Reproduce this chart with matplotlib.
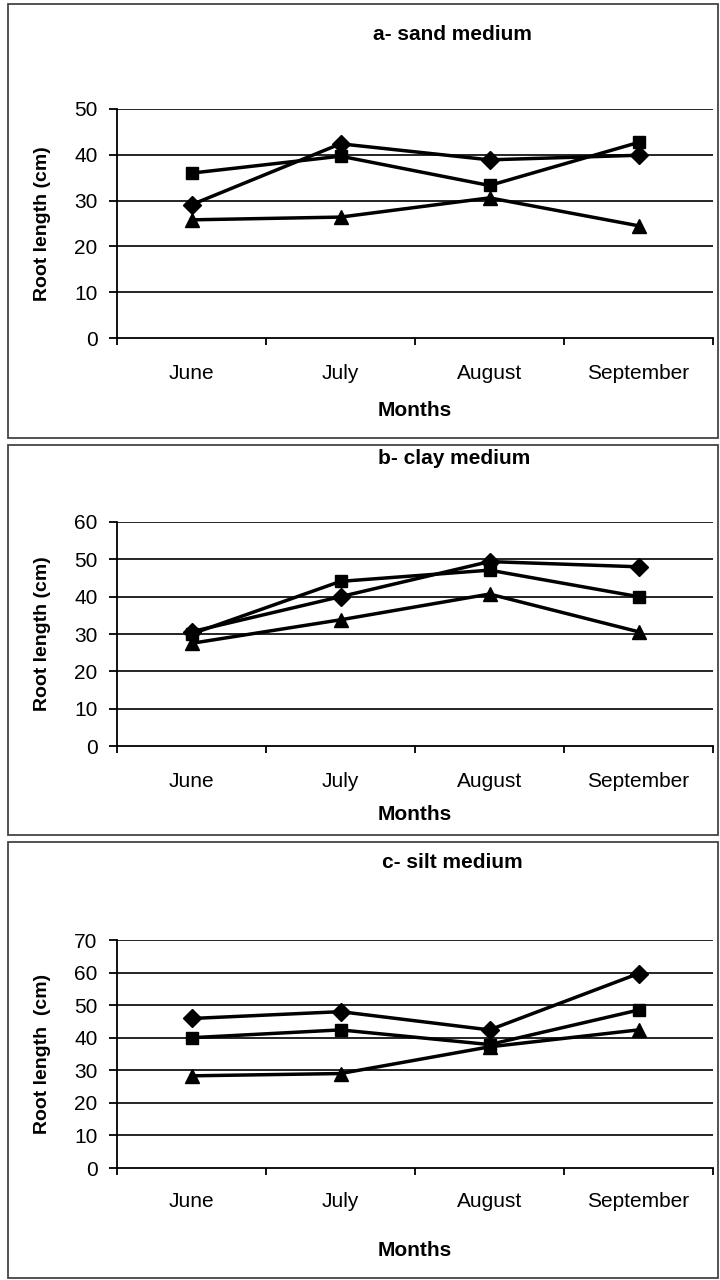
'''root length of three treatments over four months, in three growth media'''
import matplotlib
matplotlib.use('Agg')
import matplotlib.pyplot as plt
from matplotlib.patches import Rectangle

months = ['June', 'July', 'August', 'September']

# panel a - sand
sand_diamond = [29.1, 42.4, 38.9, 39.9]
sand_square = [36.0, 39.7, 33.3, 42.7]
sand_triangle = [25.8, 26.4, 30.6, 24.5]

# panel b - clay
clay_diamond = [30.6, 40.0, 49.4, 48.0]
clay_square = [30.0, 44.1, 47.1, 40.0]
clay_triangle = [27.5, 33.8, 40.7, 30.6]

# panel c - silt
silt_diamond = [45.9, 48.0, 42.4, 59.7]
silt_square = [40.0, 42.4, 37.9, 48.5]
silt_triangle = [28.3, 29.0, 37.2, 42.4]

titles = ['a- sand medium', 'b- clay medium', 'c- silt medium']
ylabels = ['Root length (cm)', 'Root length (cm)', 'Root length  (cm)']
ymaxes = [50, 60, 70]

plt.rcParams['font.family'] = ['Liberation Sans', 'DejaVu Sans']

W, H = 720, 1280
fig = plt.figure(figsize=(W / 100, H / 100), dpi=100)


def fx(px):
    return px / W


def fy(py):
    return 1 - py / H


# pixel layout of each panel: box top/bottom, axes top/bottom, title, months y, tick pad
panels = [
    dict(box=(4, 438), ax=(109, 338), title=(452, 35), months=410, pad=19),
    dict(box=(445, 835), ax=(522, 746), title=(454, 458), months=815, pad=19),
    dict(box=(842, 1278), ax=(940, 1168), title=(452, 862), months=1250, pad=17),
]
data = [
    (sand_diamond, sand_square, sand_triangle),
    (clay_diamond, clay_square, clay_triangle),
    (silt_diamond, silt_square, silt_triangle),
]

ax_left, ax_right = 117, 713
x = list(range(1, len(months) + 1))

for p, series, title, ylab, ymax in zip(panels, data, titles, ylabels, ymaxes):
    # the frame round each chart
    btop, bbot = p['box']
    fig.patches.append(Rectangle((fx(8), fy(bbot)), fx(718 - 8), (bbot - btop) / H,
                                 transform=fig.transFigure, fill=False,
                                 edgecolor='#444444', lw=1.3))

    atop, abot = p['ax']
    ax = fig.add_axes([fx(ax_left), fy(abot), fx(ax_right - ax_left), (abot - atop) / H])

    for vals, mk, ms in zip(series, ['D', 's', '^'], [9, 8.5, 10]):
        ax.plot(x, vals, color='black', lw=2.5, marker=mk, markersize=ms,
                markerfacecolor='black', markeredgecolor='black', zorder=3)

    ax.set_xlim(0.5, len(months) + 0.5)
    ax.set_ylim(0, ymax)
    ax.set_yticks(range(0, ymax + 1, 10))
    for yv in range(10, ymax + 1, 10):
        ax.axhline(yv, color='black', lw=1.2, zorder=1)

    for s in ['top', 'right']:
        ax.spines[s].set_visible(False)
    for s in ['left', 'bottom']:
        ax.spines[s].set_linewidth(1.3)

    # boundary ticks without labels, labels centred under each month
    ax.set_xticks([i + 0.5 for i in range(len(months) + 1)])
    ax.set_xticklabels([])
    ax.set_xticks(x, minor=True)
    ax.set_xticklabels(months, minor=True, fontsize=15)
    ax.tick_params(axis='x', which='major', direction='out', length=5, width=1.3)
    ax.tick_params(axis='x', which='minor', length=0, pad=p['pad'])
    ax.tick_params(axis='y', direction='out', length=6, width=1.3, labelsize=15, pad=8)

    fig.text(fx(p['title'][0]), fy(p['title'][1]), title, ha='center', va='center',
             fontsize=15, fontweight='bold')
    fig.text(fx((ax_left + ax_right) / 2), fy(p['months']), 'Months', ha='center',
             va='center', fontsize=15, fontweight='bold')
    fig.text(fx(43), fy((atop + abot) / 2), ylab, ha='center', va='center',
             rotation=90, fontsize=14, fontweight='bold')

fig.savefig('out.png', dpi=100)
